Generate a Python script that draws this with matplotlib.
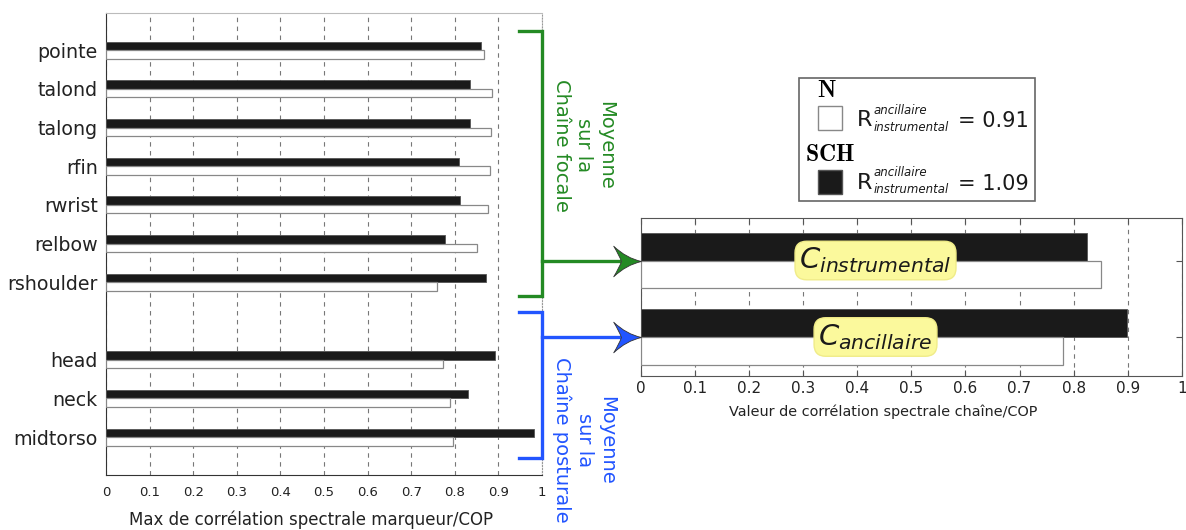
import numpy as np
import matplotlib
matplotlib.use('Agg')
import matplotlib.pyplot as plt
from matplotlib.path import Path
from matplotlib.patches import Rectangle

# --- données ---
marqueurs = ['pointe', 'talond', 'talong', 'rfin', 'rwrist', 'relbow',
             'rshoulder', 'head', 'neck', 'midtorso']
chaine_marqueur = ['focale'] * 7 + ['posturale'] * 3
sch_marqueur = [0.861, 0.834, 0.834, 0.809, 0.811, 0.778, 0.871, 0.892, 0.831, 0.981]
n_marqueur = [0.867, 0.886, 0.884, 0.881, 0.875, 0.852, 0.760, 0.772, 0.789, 0.797]

chaines = ['instrumental', 'ancillaire']
sch_chaine = [0.824, 0.899]
n_chaine = [0.851, 0.781]
ratio_n = 0.91
ratio_sch = 1.09

xticks = [0, 0.1, 0.2, 0.3, 0.4, 0.5, 0.6, 0.7, 0.8, 0.9, 1]
xticklabels = ['0', '0.1', '0.2', '0.3', '0.4', '0.5', '0.6', '0.7', '0.8', '0.9', '1']

VERT = '#248a24'
BLEU = '#2255ff'
NOIR = '#1a1a1a'
W, H = 1186, 530

fig = plt.figure(figsize=(W / 100, H / 100), dpi=100)

# --- graphe de gauche : par marqueur ---
axl = fig.add_axes([106 / W, 1 - 475 / H, 436 / W, 462 / H])
# un trou entre les deux chaînes
pos = np.arange(len(marqueurs)) + np.array([c == 'posturale' for c in chaine_marqueur])
h = 0.22
axl.barh(pos - h / 2, sch_marqueur, height=h, color=NOIR, edgecolor='#555555', linewidth=0.6, zorder=3)
axl.barh(pos + h / 2, n_marqueur, height=h, color='white', edgecolor='#888888', linewidth=0.9, zorder=3)
axl.set_yticks(pos)
axl.set_yticklabels(marqueurs, fontsize=13.7, color='#222222')
axl.set_xticks(xticks)
axl.set_xticklabels(xticklabels, fontsize=9.5, color='#222222')
axl.set_xlim(0, 1)
axl.set_ylim(10.98, -0.96)
axl.tick_params(length=0, pad=8)
axl.tick_params(axis='y', pad=6)
axl.xaxis.grid(True, linestyle=(0, (4, 4)), color='#777777', linewidth=0.8)
axl.set_axisbelow(True)
axl.spines['top'].set_color('#bbbbbb')
axl.spines['right'].set_linestyle(':')
axl.spines['right'].set_color('#999999')
axl.spines['left'].set_color('#333333')
axl.spines['bottom'].set_color('#333333')
axl.set_xlabel('Max de corrélation spectrale marqueur/COP', fontsize=12, color='#222222')
axl.xaxis.set_label_coords(0.47, -0.076)

# --- graphe de droite : moyenne par chaîne ---
axr = fig.add_axes([640.5 / W, 1 - 376 / H, 541.5 / W, 158 / H])
pr = np.arange(len(chaines))
hr = 0.36
axr.barh(pr - hr / 2, sch_chaine, height=hr, color=NOIR, edgecolor='#555555', linewidth=0.6, zorder=3)
axr.barh(pr + hr / 2, n_chaine, height=hr, color='white', edgecolor='#888888', linewidth=0.9, zorder=3)
axr.set_xlim(0, 1)
axr.set_ylim(1.51, -0.556)
axr.set_yticks(pr)
axr.set_yticklabels([])
axr.set_xticks(xticks)
axr.set_xticklabels(xticklabels, fontsize=11, color='#222222')
axr.tick_params(direction='in', length=4, top=True, right=True, color='#555555')
axr.xaxis.grid(True, linestyle=(0, (4, 4)), color='#777777', linewidth=0.8)
axr.set_axisbelow(True)
for s in axr.spines.values():
    s.set_color('#555555')
axr.set_xlabel('Valeur de corrélation spectrale chaîne/COP', fontsize=10.4, color='#222222')
axr.xaxis.set_label_coords(0.448, -0.18)

for p, nom in zip(pr, chaines):
    axr.text(0.434, p, r'$C_{%s}$' % nom, fontsize=21, ha='center', va='center', color=NOIR, zorder=5,
             bbox=dict(boxstyle='round,pad=0.15,rounding_size=0.4', fc='#fbf99c', ec='#f0ec88'))

# --- accolades et flèches ---
fleche = Path([(0, 0), (-0.55, 0.12), (-1.0, 0.55), (-0.8, 0.22), (-0.72, 0.0),
               (-0.8, -0.22), (-1.0, -0.55), (-0.55, -0.12), (0, 0), (0, 0)],
              [Path.MOVETO, Path.CURVE3, Path.CURVE3, Path.CURVE3, Path.CURVE3,
               Path.CURVE3, Path.CURVE3, Path.CURVE3, Path.CURVE3, Path.CLOSEPOLY])

accolades = [(VERT, -0.49, 6.36, 0), (BLEU, 6.77, 10.54, 1)]
for coul, y0, y1, cible in accolades:
    axl.plot([0.947, 1.0, 1.0, 0.947], [y0, y0, y1, y1], color=coul, lw=2.4, clip_on=False,
             solid_joinstyle='miter', zorder=6)
    # branche horizontale vers le graphe de droite
    d0 = axr.transData.transform((-0.04, cible))
    x_fin, y_br = axl.transData.inverted().transform(d0)
    axl.plot([1.0, x_fin], [y_br, y_br], color=coul, lw=2.4, clip_on=False, zorder=6)
    axr.plot([0], [cible], marker=fleche, ms=40, color=coul, mec='#333333', mew=0.6,
             clip_on=False, zorder=7, linestyle='none')

fig.text(584 / W, 1 - 145 / H, 'Moyenne\nsur la\nChaîne focale', color=VERT, fontsize=14,
         rotation=-90, ha='center', va='center', multialignment='center')
fig.text(584 / W, 1 - 440 / H, 'Moyenne\nsur la\nChaîne posturale', color=BLEU, fontsize=14,
         rotation=-90, ha='center', va='center', multialignment='center')

# --- légende ---
fig.add_artist(Rectangle((799 / W, 1 - 201 / H), 236 / W, 123 / H, transform=fig.transFigure,
                         fc='white', ec='#666666', lw=1.2))
fig.add_artist(Rectangle((818 / W, 1 - 130 / H), 24 / W, 24 / H, transform=fig.transFigure,
                         fc='white', ec='#888888', lw=1))
fig.add_artist(Rectangle((818 / W, 1 - 194 / H), 24 / W, 24 / H, transform=fig.transFigure,
                         fc=NOIR, ec='#555555', lw=1))
fig.text(827 / W, 1 - 90 / H, r'$\mathbf{N}$', fontsize=17, ha='center', va='center', math_fontfamily='cm')
fig.text(830 / W, 1 - 154 / H, r'$\mathbf{SCH}$', fontsize=17, ha='center', va='center', math_fontfamily='cm')

for yc, r in [(120, ratio_n), (183, ratio_sch)]:
    fig.text(857 / W, 1 - yc / H, 'R', fontsize=16, ha='left', va='center', color=NOIR)
    fig.text(874 / W, 1 - (yc - 10) / H, 'ancillaire', fontsize=8.5, style='italic',
             ha='left', va='center', color=NOIR)
    fig.text(874 / W, 1 - (yc + 7) / H, 'instrumental', fontsize=8.5, style='italic',
             ha='left', va='center', color=NOIR)
    fig.text(958 / W, 1 - (yc + 1) / H, '= %.2f' % r, fontsize=15, ha='left', va='center', color=NOIR)

fig.savefig('out.png', dpi=100)
